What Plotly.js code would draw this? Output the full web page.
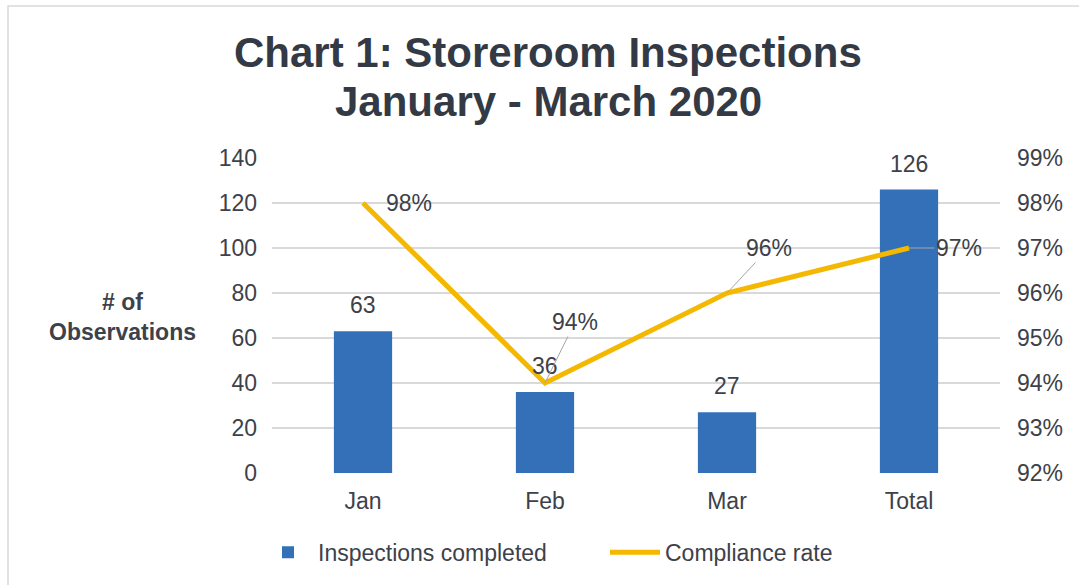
<!DOCTYPE html>
<html>
<head>
<meta charset="utf-8">
<script src="https://cdn.plot.ly/plotly-3.0.1.min.js"></script>
<style>
  html, body { margin: 0; padding: 0; background: #ffffff; }
  #chart { width: 1079px; height: 585px; }
</style>
</head>
<body>
<div id="chart"></div>
<script>
const categories = ["Jan", "Feb", "Mar", "Total"];
const inspections = [63, 36, 27, 126];
const compliance = [0.98, 0.94, 0.96, 0.97];
const complianceLabels = ["98%", "94%", "96%", "97%"];
const leftTicks = [0, 20, 40, 60, 80, 100, 120, 140];
const rightTicks = [0.92, 0.93, 0.94, 0.95, 0.96, 0.97, 0.98, 0.99];
const titleLines = ["Chart 1: Storeroom Inspections", "January - March 2020"];

const textColor = "#3d4149";
const font = "Liberation Sans, Arial, sans-serif";
const fs = 23;

// label placement offsets (pixels) for compliance labels
const labelOffsets = [
  { ax: 46, ay: 0, arrow: false },
  { ax: 30, ay: -61, arrow: true },
  { ax: 42, ay: -45, arrow: true },
  { ax: 50, ay: 0, arrow: true }
];

const traces = [
  {
    type: "bar",
    name: "Inspections completed",
    x: categories,
    y: inspections,
    width: 0.32,
    marker: { color: "#3470b8" },
    hoverinfo: "skip"
  },
  {
    type: "scatter",
    mode: "lines",
    name: "Compliance rate",
    x: categories,
    y: compliance,
    yaxis: "y2",
    line: { color: "#f4b800", width: 5 },
    hoverinfo: "skip"
  }
];

const annotations = [];
categories.forEach((c, i) => {
  annotations.push({
    x: c, y: inspections[i], xref: "x", yref: "y",
    text: String(inspections[i]), showarrow: false,
    yanchor: "middle", yshift: 26,
    font: { family: font, size: fs, color: textColor }
  });
  const o = labelOffsets[i];
  if (o.arrow) {
    annotations.push({
      x: c, y: compliance[i], xref: "x", yref: "y2",
      text: complianceLabels[i], showarrow: true,
      arrowhead: 0, arrowwidth: 1, arrowcolor: "#a6a6a6",
      ax: o.ax, ay: o.ay, standoff: 0,
      font: { family: font, size: fs, color: textColor }
    });
  } else {
    annotations.push({
      x: c, y: compliance[i], xref: "x", yref: "y2",
      text: complianceLabels[i], showarrow: false,
      xshift: o.ax, yshift: -o.ay,
      font: { family: font, size: fs, color: textColor }
    });
  }
});
annotations.push({
  xref: "paper", yref: "paper", x: -0.206, y: 0.495,
  text: "<b># of<br>Observations</b>", showarrow: false,
  xanchor: "center", yanchor: "middle",
  font: { family: font, size: fs, color: textColor }
});
// chart title, two lines
const titleY = [(473 - 52) / 315, (473 - 101) / 315];
titleLines.forEach((t, i) => {
  annotations.push({
    xref: "paper", yref: "paper", x: (548 - 272) / 728, y: titleY[i],
    text: "<b>" + t + "</b>", showarrow: false,
    xanchor: "center", yanchor: "middle",
    font: { family: font, size: 42, color: "#333a45" }
  });
});

const layout = {
  width: 1079, height: 585,
  margin: { l: 272, r: 79, t: 158, b: 112 },
  paper_bgcolor: "#ffffff",
  plot_bgcolor: "#ffffff",
  font: { family: font, color: textColor, size: fs },
  xaxis: {
    type: "category",
    range: [-0.5, 3.5],
    showgrid: false, zeroline: false, showline: false,
    ticks: "", ticklabelstandoff: 12,
    tickfont: { family: font, size: fs, color: textColor }
  },
  yaxis: {
    range: [0, 140],
    tickvals: leftTicks,
    showgrid: true, gridcolor: "#d9d9d9", gridwidth: 1.5,
    zeroline: false, showline: false, ticks: "",
    ticklabelstandoff: 14,
    tickfont: { family: font, size: fs, color: textColor }
  },
  yaxis2: {
    overlaying: "y", side: "right",
    range: [0.92, 0.99],
    tickvals: rightTicks, tickformat: ".0%",
    showgrid: false, zeroline: false, showline: false, ticks: "",
    ticklabelstandoff: 16,
    tickfont: { family: font, size: fs, color: textColor }
  },
  showlegend: true,
  legend: {
    orientation: "h",
    xref: "container", x: 258 / 1079, xanchor: "left",
    yref: "container", y: 0.056, yanchor: "middle",
    font: { family: font, size: fs, color: textColor },
    itemwidth: 50,
    entrywidth: 282
  },
  annotations: annotations,
  shapes: [{
    type: "rect", xref: "paper", yref: "paper",
    x0: (8 - 272) / 728, x1: (1090 - 272) / 728,
    y0: -0.5, y1: (473 - 6) / 315,
    line: { color: "#d9d9d9", width: 1.5 }, fillcolor: "rgba(0,0,0,0)",
    layer: "below"
  }]
};

Plotly.newPlot("chart", traces, layout, { staticPlot: true, displayModeBar: false });
</script>
</body>
</html>
